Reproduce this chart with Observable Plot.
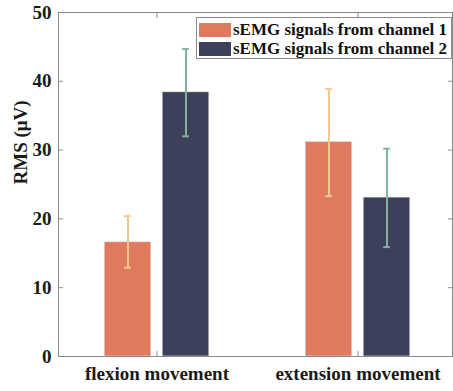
<!DOCTYPE html>
<html>
<head>
<meta charset="utf-8">
<script src="https://cdn.jsdelivr.net/npm/d3@7"></script>
<script src="https://cdn.jsdelivr.net/npm/@observablehq/plot@0.6"></script>
<style>
  html, body { margin: 0; padding: 0; background: #fff; }
  #wrap { position: relative; width: 453px; height: 391px; overflow: hidden; }
  #legend {
    position: absolute; left: 196px; top: 17px; width: 256px; height: 42px;
    border: 1px solid #8a8a8a; background: #fff; box-sizing: border-box;
    font-family: "Liberation Serif", "Times New Roman", serif; font-weight: bold;
    font-size: 17px; color: #111;
  }
  .row { position: absolute; left: 2px; height: 14px; display: flex; align-items: center; white-space: nowrap; }
  .sw { width: 32px; height: 14px; margin-right: 2px; flex: none; }
</style>
</head>
<body>
<div id="wrap"><div id="legend"></div></div>
<script>
// ---- data ----
const categories = ["flexion movement", "extension movement"];
const seriesNames = ["sEMG signals from channel 1", "sEMG signals from channel 2"];
const ch1Mean = [16.6, 31.2];
const ch1Low  = [12.9, 23.3];
const ch1High = [20.4, 38.9];
const ch2Mean = [38.4, 23.1];
const ch2Low  = [32.0, 15.9];
const ch2High = [44.7, 30.2];
const yTicks = [0, 10, 20, 30, 40, 50];

// ---- styles ----
const barColors = ["#e07a5f", "#3d405b"];
const errColors = ["#f2c98b", "#81b29a"];
const axisGray = "#8a8a8a";
const textColor = "#1a1a1a";
const serif = "'Liberation Serif', 'Times New Roman', serif";

const rows = (means, lows, highs) => categories.map((c, i) => ({cat: c, mean: means[i], lo: lows[i], hi: highs[i]}));
const s1 = rows(ch1Mean, ch1Low, ch1High);
const s2 = rows(ch2Mean, ch2Low, ch2High);

const W = 453, H = 391;
const pIn = 0.1, pOut = 0.0277;
const rangeLen = W - 58 - 1;
const step = rangeLen / (categories.length - pIn + 2 * pOut);
const bw = step * (1 - pIn);
const barW = 47, off = 29, capW = 7;
const barInset = (bw - barW) / 2;
const capInset = (bw - capW) / 2;

function seriesMarks(data, k) {
  const dx = k === 0 ? -off : off;
  return [
    Plot.barY(data, {x: "cat", y: "mean", fill: barColors[k], dx, insetLeft: barInset, insetRight: barInset,
      stroke: "#e8e8ee", strokeWidth: 0.6}),
    Plot.ruleX(data, {x: "cat", y1: "lo", y2: "hi", stroke: errColors[k], strokeWidth: 2, dx}),
    Plot.tickY(data, {x: "cat", y: "lo", stroke: errColors[k], strokeWidth: 2, dx, insetLeft: capInset, insetRight: capInset}),
    Plot.tickY(data, {x: "cat", y: "hi", stroke: errColors[k], strokeWidth: 2, dx, insetLeft: capInset, insetRight: capInset})
  ];
}

const chart = Plot.plot({
  width: W, height: H,
  marginLeft: 58, marginRight: 1, marginTop: 12, marginBottom: 35,
  style: {fontFamily: serif, fontWeight: "bold", fontSize: "19px", color: textColor, background: "white", overflow: "visible"},
  x: {domain: categories, paddingInner: pIn, paddingOuter: pOut, align: 0.63, label: null, axis: null},
  y: {domain: [0, 50], label: null, axis: null},
  marks: [
    ...seriesMarks(s1, 0),
    ...seriesMarks(s2, 1),
    Plot.frame({stroke: axisGray, strokeWidth: 1}),
    Plot.axisY(yTicks, {anchor: "left", tickSize: -5, stroke: axisGray, fill: "none", label: null}),
    Plot.axisY(yTicks, {anchor: "right", tickSize: -5, stroke: axisGray, fill: "none", label: null}),
    Plot.axisY(yTicks, {anchor: "left", tickSize: 0, tickPadding: 7, stroke: "none", fill: textColor, fontSize: 19, fontWeight: "bold", label: null}),
    Plot.axisX({anchor: "bottom", tickSize: -5, stroke: axisGray, fill: "none", label: null}),
    Plot.axisX({anchor: "top", tickSize: -5, stroke: axisGray, fill: "none", label: null}),
    Plot.axisX({anchor: "bottom", tickSize: 0, tickPadding: 10, stroke: "none", fill: textColor, fontSize: 19, fontWeight: "bold", label: null}),
    Plot.text(["RMS (μV)"], {frameAnchor: "left", rotate: -90, dx: -38, fontSize: 19, fontWeight: "bold", fill: textColor, text: d => d})
  ]
});

const wrap = document.getElementById("wrap");
wrap.insertBefore(chart, wrap.firstChild);

const legend = document.getElementById("legend");
seriesNames.forEach((name, k) => {
  const row = document.createElement("div");
  row.className = "row";
  row.style.top = (k === 0 ? 4.5 : 24) + "px";
  const sw = document.createElement("span");
  sw.className = "sw";
  sw.style.background = barColors[k];
  const t = document.createElement("span");
  t.textContent = name;
  row.appendChild(sw);
  row.appendChild(t);
  legend.appendChild(row);
});
</script>
</body>
</html>
